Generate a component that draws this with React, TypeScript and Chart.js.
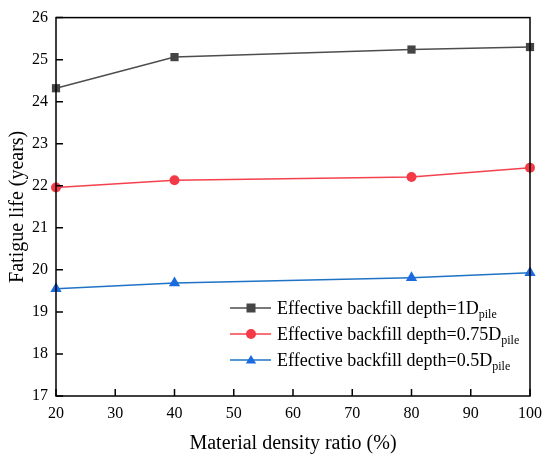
import { useEffect, useRef } from "react"
import { Chart, registerables } from "chart.js"

Chart.register(...registerables)

// values
const densityRatio = [20, 40, 80, 100]
const life1D = [24.32, 25.06, 25.24, 25.3]
const life075D = [21.96, 22.13, 22.21, 22.43]
const life05D = [19.55, 19.69, 19.81, 19.93]

const depthLabels = ["1", "0.75", "0.5"]
const xTickValues = [20, 30, 40, 50, 60, 70, 80, 90, 100]
const yTickValues = [17, 18, 19, 20, 21, 22, 23, 24, 25, 26]

const FONT = "'Liberation Serif', 'Times New Roman', serif"

const lineColors = ["#4d4d4d", "#f5414e", "#1e73c4"]
const markColors = ["#454545", "#f53a47", "#1a6ae0"]
const markStyles = ["rect", "circle", "triangle"]
const markSizes = [5.8, 5, 6.5]

// frame, inward ticks and the legend with the subscript
const framePlugin = {
  id: "frameAndLegend",
  afterDatasetsDraw(chart: any) {
    const { ctx, chartArea } = chart
    const xs = chart.scales.x
    const ys = chart.scales.y
    ctx.save()
    ctx.strokeStyle = "#000"
    ctx.lineWidth = 1.5
    ctx.strokeRect(chartArea.left, chartArea.top, chartArea.right - chartArea.left, chartArea.bottom - chartArea.top)
    ctx.beginPath()
    xTickValues.forEach((v) => {
      const px = xs.getPixelForValue(v)
      ctx.moveTo(px, chartArea.bottom)
      ctx.lineTo(px, chartArea.bottom - 7)
    })
    yTickValues.forEach((v) => {
      const py = ys.getPixelForValue(v)
      ctx.moveTo(chartArea.left, py)
      ctx.lineTo(chartArea.left + 7, py)
    })
    ctx.stroke()

    // legend
    const lx = chartArea.left + 174
    const rows = [308, 334, 360]
    rows.forEach((ry, i) => {
      ctx.strokeStyle = lineColors[i]
      ctx.lineWidth = 1.5
      ctx.beginPath()
      ctx.moveTo(lx, ry)
      ctx.lineTo(lx + 41, ry)
      ctx.stroke()
      drawMark(ctx, markStyles[i], lx + 21, ry, i === 1 ? 5 : 4.5, markColors[i])
      ctx.fillStyle = "#000"
      ctx.textBaseline = "alphabetic"
      ctx.font = `18px ${FONT}`
      const main = `Effective backfill depth=${depthLabels[i]}D`
      ctx.fillText(main, lx + 47, ry + 6)
      const w = ctx.measureText(main).width
      ctx.font = `12px ${FONT}`
      ctx.fillText("pile", lx + 47 + w, ry + 10)
    })
    ctx.restore()
  },
}

function drawMark(ctx: CanvasRenderingContext2D, style: string, x: number, y: number, r: number, color: string) {
  ctx.fillStyle = color
  ctx.beginPath()
  if (style === "rect") {
    ctx.rect(x - r, y - r, r * 2, r * 2)
  } else if (style === "circle") {
    ctx.arc(x, y, r, 0, Math.PI * 2)
  } else {
    ctx.moveTo(x, y - r * 1.1)
    ctx.lineTo(x + r * 1.15, y + r * 0.8)
    ctx.lineTo(x - r * 1.15, y + r * 0.8)
    ctx.closePath()
  }
  ctx.fill()
}

export default function App() {
  const chartRef = useRef<HTMLCanvasElement>(null)
  const chartInstance = useRef<Chart | null>(null)

  useEffect(() => {
    if (!chartRef.current) return
    if (chartInstance.current) chartInstance.current.destroy()
    const ctx = chartRef.current.getContext("2d")
    if (!ctx) return

    const series = [life1D, life075D, life05D]

    chartInstance.current = new Chart(ctx, {
      type: "line",
      data: {
        datasets: series.map((vals, i) => ({
          label: `Effective backfill depth=${depthLabels[i]}Dpile`,
          data: densityRatio.map((x, k) => ({ x, y: vals[k] })),
          borderColor: lineColors[i],
          backgroundColor: markColors[i],
          borderWidth: 1.5,
          pointStyle: markStyles[i] as any,
          pointRadius: markSizes[i],
          pointBorderWidth: 0,
          pointBackgroundColor: markColors[i],
          tension: 0,
          clip: false as any,
        })),
      },
      options: {
        animation: false,
        responsive: false,
        devicePixelRatio: 1,
        layout: { padding: { left: 0, right: 19, top: 13, bottom: 0 } },
        plugins: {
          legend: { display: false },
          tooltip: { enabled: false },
        },
        scales: {
          x: {
            type: "linear",
            min: 20,
            max: 100,
            grid: { display: false, drawTicks: false },
            border: { display: false },
            ticks: {
              stepSize: 10,
              padding: 8,
              color: "#000",
              font: { family: FONT, size: 16 },
            },
            title: {
              display: true,
              text: "Material density ratio (%)",
              color: "#000",
              font: { family: FONT, size: 20 },
              padding: { top: 0, bottom: 0 },
            },
            afterFit: (s: any) => {
              s.height = 60
            },
          },
          y: {
            min: 17,
            max: 26,
            grid: { display: false, drawTicks: false },
            border: { display: false },
            ticks: {
              stepSize: 1,
              padding: 8,
              color: "#000",
              font: { family: FONT, size: 16 },
            },
            title: {
              display: true,
              text: "Fatigue life (years)",
              color: "#000",
              font: { family: FONT, size: 20 },
              padding: { top: 6, bottom: 0 },
            },
            afterFit: (s: any) => {
              s.width = 56
            },
          },
        },
      },
      plugins: [framePlugin],
    })

    return () => {
      if (chartInstance.current) chartInstance.current.destroy()
    }
  }, [])

  return (
    <div style={{ position: "absolute", left: 0, top: 0, width: 550, height: 456, background: "#fff" }}>
      <canvas ref={chartRef} width={550} height={456} />
    </div>
  )
}
